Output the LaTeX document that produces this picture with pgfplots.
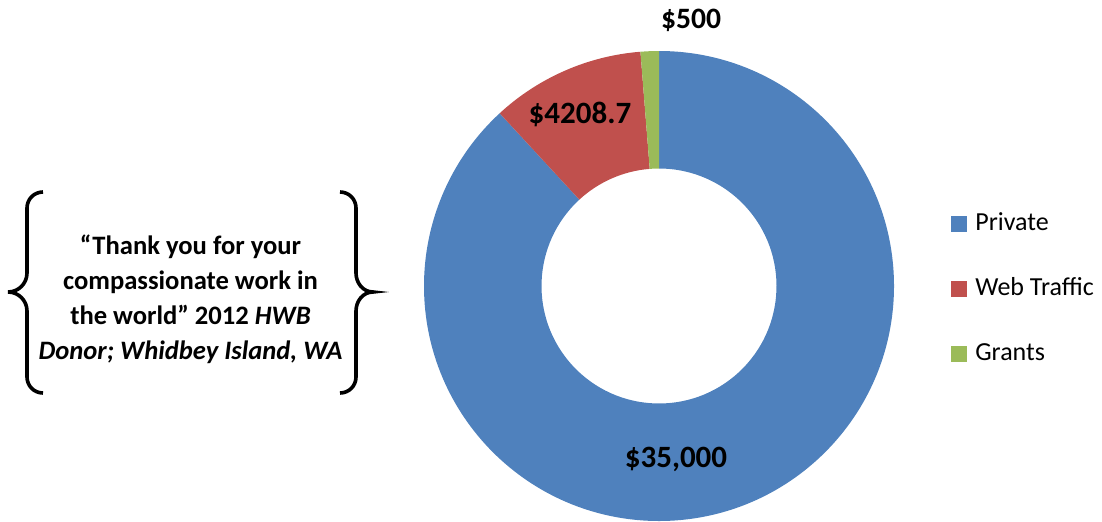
\documentclass[border=0pt]{standalone}
\usepackage{pgfplots}
\usepackage{pgfplotstable}
\pgfplotsset{compat=1.18}
\usepackage{fontspec}
\setmainfont{Carlito}
\definecolor{cPriv}{HTML}{4F81BD}
\definecolor{cWeb}{HTML}{C0504D}
\definecolor{cGr}{HTML}{9BBB59}
\pgfplotstableread{
label value
Private 35000
WebTraffic 4208.7
Grants 500
}\donutdata
\pgfplotstablegetelem{0}{value}\of\donutdata \edef\vA{\pgfplotsretval}
\pgfplotstablegetelem{1}{value}\of\donutdata \edef\vB{\pgfplotsretval}
\pgfplotstablegetelem{2}{value}\of\donutdata \edef\vC{\pgfplotsretval}
\edef\tot{\fpeval{\vA+\vB+\vC}}
\edef\aZ{90}
\edef\aA{\fpeval{90-360*\vA/\tot}}
\edef\aB{\fpeval{\aA-360*\vB/\tot}}
\edef\aC{\fpeval{\aB-360*\vC/\tot}}
\newcommand\sector[3]{%
  \fill[#1] (axis cs:659,235) ++(#2:117.5pt) arc[start angle=#2, end angle=#3, radius=117.5pt]
    -- ++(#3:-58.75pt) arc[start angle=#3, end angle=#2, radius=58.75pt] -- cycle;}
\begin{document}
\begin{tikzpicture}
\begin{axis}[
  scale only axis, width=551pt, height=260.5pt,
  xmin=0, xmax=1102, ymin=0, ymax=521,
  hide axis, clip=false,
  legend image code/.code={\fill[#1] (0pt,-3.75pt) rectangle (7.5pt,3.75pt);},
  legend style={draw=none, fill=none, at={(951/1102,232/521)}, anchor=west,
    inner sep=0pt, outer sep=0pt, row sep=20.5pt,
    font=\fontsize{13}{15}\selectfont,
    nodes={inner sep=0pt, text height=9pt, text depth=3pt},
    /tikz/every odd column/.append style={column sep=4.25pt}},
  legend cell align=left,
]
\addlegendimage{cPriv}
\addlegendentry{Private}
\addlegendimage{cWeb}
\addlegendentry{Web Traffic}
\addlegendimage{cGr}
\addlegendentry{Grants}
\sector{cPriv}{\aZ}{\aA}
\sector{cWeb}{\aA}{\aB}
\sector{cGr}{\aB}{\aC}
\node[anchor=base, inner sep=0pt, font=\bfseries\fontsize{15.5}{18}\selectfont] at (axis cs:676,54) {\$35,000};
\node[anchor=base, inner sep=0pt, font=\bfseries\fontsize{15.5}{18}\selectfont] at (axis cs:580,397.7) {\$4208.7};
\node[anchor=base, inner sep=0pt, font=\bfseries\fontsize{14.8}{18}\selectfont] at (axis cs:691,492.7) {\$500};
\node[align=center, inner sep=0pt, font=\bfseries\fontsize{13.3}{17.5}\selectfont] at (axis cs:190.5,222)
  {“Thank you for your\\compassionate work in\\the world” 2012 \textit{HWB}\\\textit{Donor; Whidbey Island, WA}};
\draw[line width=1.8pt] (axis cs:43,329) to[out=180,in=90] (axis cs:27,313) -- (axis cs:27,248)
  to[out=-90,in=0] (axis cs:8,229) to[out=0,in=90] (axis cs:27,210) -- (axis cs:27,144)
  to[out=-90,in=180] (axis cs:43,128);
\draw[line width=1.8pt] (axis cs:340,329) to[out=0,in=90] (axis cs:356,313) -- (axis cs:356,248)
  to[out=-90,in=180] (axis cs:373,229) to[out=180,in=90] (axis cs:356,210) -- (axis cs:356,144)
  to[out=-90,in=0] (axis cs:340,128);
\end{axis}
\pgfresetboundingbox
\path[use as bounding box] (0,0) rectangle (551pt,260.5pt);
\end{tikzpicture}
\end{document}
